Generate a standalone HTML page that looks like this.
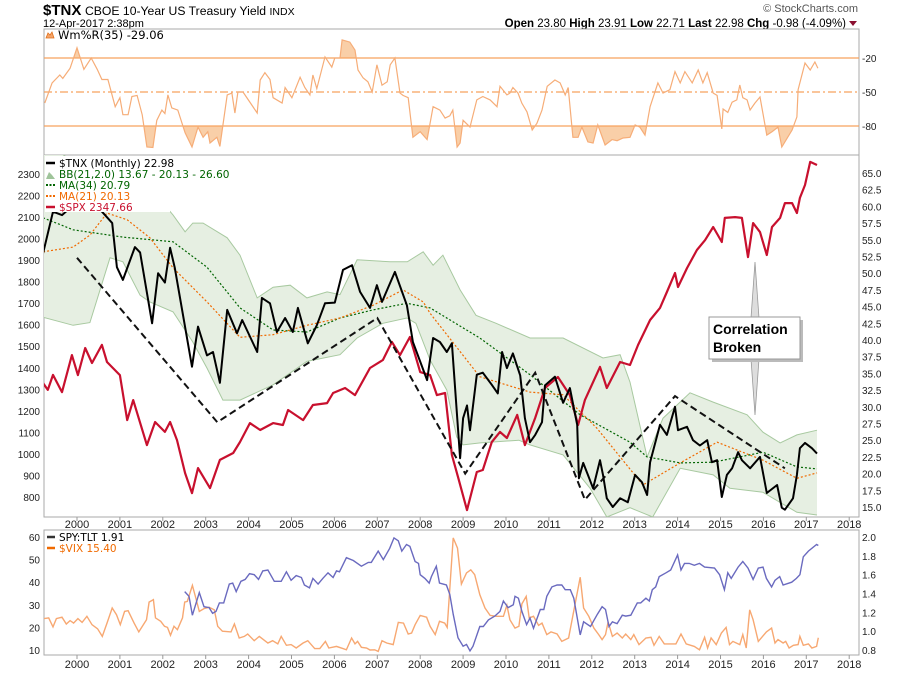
<!DOCTYPE html>
<html><head><meta charset="utf-8">
<style>
body{margin:0;background:#fff;}
svg{display:block;font-family:"Liberation Sans",sans-serif;}
.lg{font-family:"DejaVu Sans","Liberation Sans",sans-serif;}
.ax{font-size:10px;fill:#222;}
.yr{font-size:11px;fill:#222;}
</style></head>
<body>
<svg id="chart" width="900" height="673" viewBox="0 0 900 673" xmlns="http://www.w3.org/2000/svg">
<defs>
<clipPath id="clipTop"><rect x="44" y="29" width="815" height="126"/></clipPath>
<clipPath id="clipMain"><rect x="44" y="155" width="815" height="362"/></clipPath>
<clipPath id="clipBot"><rect x="44" y="530" width="815" height="125"/></clipPath>
<clipPath id="clipAbove"><rect x="44" y="29" width="815" height="29"/></clipPath>
<clipPath id="clipBelow"><rect x="44" y="126" width="815" height="29"/></clipPath>
</defs>
<text x="43" y="15" font-size="15" font-weight="bold">$TNX</text>
<text x="85" y="15" font-size="12.2">CBOE 10-Year US Treasury Yield <tspan font-size="10.5">INDX</tspan></text>
<text x="43" y="27" font-size="11">12-Apr-2017 2:38pm</text>
<text x="858" y="12" font-size="11" fill="#555" text-anchor="end">© StockCharts.com</text>
<text x="846" y="27" font-size="11.5" text-anchor="end"><tspan font-weight="bold">Open</tspan> 23.80  <tspan font-weight="bold">High</tspan> 23.91  <tspan font-weight="bold">Low</tspan> 22.71  <tspan font-weight="bold">Last</tspan> 22.98  <tspan font-weight="bold">Chg</tspan> -0.98 (-4.09%)</text>
<polygon points="849,21 857,21 853,26" fill="#8b1030"/>

<rect x="44" y="29" width="815" height="126" fill="#fff" stroke="#aaa"/>
<rect x="44" y="155" width="815" height="362" fill="#fff" stroke="#aaa"/>
<rect x="44" y="530" width="815" height="125" fill="#fff" stroke="#aaa"/>

<g id="gTop" clip-path="url(#clipTop)"></g>
<g id="gMain" clip-path="url(#clipMain)"></g>
<g id="gBot" clip-path="url(#clipBot)"></g>
<g id="gAxes"></g>

<g>
<polygon points="751,318 755,262 759,318" fill="#ddd" stroke="#999" stroke-width="0.8"/>
<polygon points="751,359 755,415 759,359" fill="#ddd" stroke="#999" stroke-width="0.8"/>
<rect x="712" y="320" width="91" height="42" fill="#bbb"/>
<rect x="709" y="317" width="91" height="42" fill="#fff" stroke="#999"/>
<text x="713" y="334" font-size="14" font-weight="bold">Correlation</text>
<text x="713" y="352" font-size="14" font-weight="bold">Broken</text>
</g>

<g>
<polygon points="46,38 48,33 50,35 52,32 54,38" fill="#f5a46a" stroke="#e0701a" stroke-width="0.8"/>
<text class="lg" x="58" y="39" style="font-size:11.5px">Wm%R(35) -29.06</text>
</g>
<g style="font-size:10.5px">
<rect x="45" y="156" width="125" height="56" fill="#fff"/>
<line x1="46" y1="163" x2="55" y2="163" stroke="#000" stroke-width="2.5"/>
<text class="lg" x="59" y="167" fill="#000">$TNX (Monthly) 22.98</text>
<polygon points="46,179 49,172 52,175 55,179" fill="#9fc49a"/>
<text class="lg" x="59" y="178" fill="#006400">BB(21,2.0) 13.67 - 20.13 - 26.60</text>
<line x1="46" y1="185" x2="55" y2="185" stroke="#006400" stroke-width="2" stroke-dasharray="2,1.5"/>
<text class="lg" x="59" y="189" fill="#006400">MA(34) 20.79</text>
<line x1="46" y1="196" x2="55" y2="196" stroke="#f06a00" stroke-width="2" stroke-dasharray="2,1.5"/>
<text class="lg" x="59" y="200" fill="#f06a00">MA(21) 20.13</text>
<line x1="46" y1="207" x2="55" y2="207" stroke="#c8102e" stroke-width="2.5"/>
<text class="lg" x="59" y="211" fill="#c8102e">$SPX 2347.66</text>
</g>
<g style="font-size:10.5px">
<line x1="47" y1="537" x2="55" y2="537" stroke="#333" stroke-width="2.5"/>
<text class="lg" x="59" y="541" fill="#000">SPY:TLT 1.91</text>
<line x1="47" y1="548" x2="55" y2="548" stroke="#f06a00" stroke-width="2.5"/>
<text class="lg" x="59" y="552" fill="#f06a00">$VIX 15.40</text>
</g>
</svg>
<script>
// ---- data ----
const tnxDates=[1999.21,1999.44,1999.65,1999.88,2000.54,2000.82,2000.93,2001.07,2001.35,2001.47,2001.75,2001.89,2002.05,2002.17,2002.28,2002.68,2002.82,2003.03,2003.17,2003.33,2003.5,2003.73,2003.85,2004.2,2004.31,2004.5,2004.66,2004.85,2005.03,2005.15,2005.38,2005.59,2005.78,2006.01,2006.2,2006.41,2006.6,2006.83,2006.99,2007.11,2007.41,2007.69,2007.83,2008.16,2008.3,2008.46,2008.62,2008.74,2008.93,2009.0,2009.09,2009.16,2009.32,2009.46,2009.67,2009.81,2009.91,2010.02,2010.16,2010.33,2010.44,2010.56,2010.68,2010.84,2010.91,2011.14,2011.33,2011.49,2011.66,2011.7,2011.8,2011.91,2012.03,2012.19,2012.26,2012.35,2012.49,2012.66,2012.84,2013.01,2013.17,2013.29,2013.36,2013.59,2013.75,2013.94,2014.01,2014.22,2014.36,2014.52,2014.69,2014.8,2014.92,2015.03,2015.15,2015.27,2015.41,2015.5,2015.69,2015.92,2016.08,2016.32,2016.43,2016.5,2016.69,2016.78,2016.85,2016.97,2017.13,2017.25];
const tnxVals=[53.0,59.2,58.7,60,59.5,57.5,50.9,49,53.9,53.1,42.5,50,48.6,53.8,50.8,36,42,37.7,38.2,33.6,44.5,41,43,38.2,46.3,45.5,41.2,43.3,41.2,44.8,39.5,42.2,45.5,45.6,50.5,51.2,47.2,44.8,48.2,45.7,50.2,45.2,39.7,34,40.3,39.7,38.2,39.5,22.3,28.3,30.2,26.5,34.8,35.1,33.3,32,38.2,35.8,38,34.7,28.3,24.7,25.8,27.7,33.2,34.5,30.6,32.8,27.3,19.3,21.6,19.8,17.8,22,19.8,16.3,15,16.3,15.7,19.8,18.7,16.8,21.7,27.3,25.8,30,26.5,27,25,24.2,25,21.7,22,16.5,19.8,20.8,23.2,22,20.8,22.5,17.1,18.3,14.9,14.6,16.3,19.8,23.8,24.6,23.8,23];
const spxDates=[1999.21,1999.32,1999.44,1999.65,1999.88,2000.02,2000.19,2000.35,2000.58,2000.7,2001.0,2001.17,2001.31,2001.63,2001.82,2002.05,2002.17,2002.33,2002.52,2002.68,2002.82,2003.1,2003.33,2003.64,2003.8,2004.03,2004.27,2004.57,2004.8,2004.92,2005.27,2005.5,2005.83,2005.97,2006.25,2006.48,2006.83,2007.13,2007.34,2007.53,2007.76,2008.0,2008.23,2008.39,2008.58,2008.74,2008.88,2009.09,2009.32,2009.46,2009.67,2009.86,2010.02,2010.26,2010.44,2010.68,2010.91,2011.21,2011.49,2011.68,2011.84,2012.19,2012.35,2012.66,2012.89,2013.08,2013.36,2013.59,2013.75,2013.94,2014.01,2014.22,2014.45,2014.64,2014.83,2015.03,2015.1,2015.34,2015.5,2015.64,2015.76,2015.92,2016.08,2016.2,2016.39,2016.5,2016.67,2016.78,2016.85,2016.97,2017.09,2017.25];
const spxVals=[1329,1297,1367,1287,1459,1366,1492,1422,1506,1427,1366,1157,1250,1041,1148,1102,1148,1064,911,818,934,841,972,1004,1055,1143,1111,1143,1134,1204,1157,1227,1236,1283,1306,1273,1399,1436,1520,1459,1543,1380,1366,1273,1283,995,893,739,916,925,1055,1102,1074,1181,1041,1167,1306,1357,1273,1134,1250,1404,1306,1427,1413,1506,1622,1678,1752,1840,1775,1863,1947,1993,2054,1984,2096,2100,2096,1914,2072,2030,1924,2054,2096,2165,2165,2119,2189,2249,2356,2342];
const ma34Dates=[1999.21,1999.91,2001.07,2002.24,2003.03,2003.8,2004.57,2005.36,2006.13,2006.9,2007.69,2008.23,2009.39,2010.56,2011.73,2012.89,2013.29,2014.06,2014.83,2015.99,2016.78,2017.25];
const ma34Vals=[58.3,56.5,55.4,54.7,50.9,44.8,41.5,41.2,43.3,44.5,45.5,44.8,40.3,34.8,28.8,24.7,22.5,21.6,21.7,23.2,21,20.7];
const ma21Dates=[1999.21,1999.91,2000.3,2000.7,2001.17,2001.7,2002.24,2003.03,2003.8,2004.57,2005.36,2006.13,2006.9,2007.6,2008.07,2008.23,2009.39,2010.56,2011.33,2012.12,2013.19,2014.06,2014.92,2015.99,2016.78,2017.25];
const ma21Vals=[53.2,53.9,55.7,59,58,55.3,50.8,45.7,40.4,40.8,42.2,43.3,45.2,47.5,45.7,44,34.5,32.2,31.8,26.8,18.3,21.6,24.7,22.0,19.3,20.1];
const bbUpDates=[1999.21,1999.91,2001.07,2001.7,2002.24,2002.52,2002.7,2002.94,2003.5,2003.8,2004.2,2004.57,2004.97,2005.36,2005.83,2006.13,2006.53,2007.3,2007.7,2008.07,2008.3,2008.53,2008.93,2009.3,2009.77,2010.56,2011.33,2012.26,2012.66,2012.89,2013.29,2013.66,2014.29,2014.83,2015.62,2015.99,2016.39,2016.78,2017.25];
const bbUpVals=[70,66.6,64,62.8,58.7,56.2,57.5,57.5,55.3,52.7,46.3,47.9,48.2,46.3,47.2,46.8,52,51.7,51.7,53.2,51.2,52.7,47.5,43.7,42.5,40.3,40.3,37.3,37.8,33.7,22.5,28.3,32.1,30.7,28.8,26.2,24.6,25.8,26.5];
const bbLoDates=[1999.21,1999.91,2000.3,2000.77,2001.07,2001.47,2001.7,2002.24,2002.7,2003.03,2003.4,2003.8,2004.57,2005.36,2006.13,2006.53,2007.13,2007.69,2007.9,2008.23,2008.62,2008.85,2009.0,2009.4,2010.3,2010.56,2011.33,2011.96,2012.35,2012.89,2013.42,2014.06,2014.83,2015.22,2015.99,2016.78,2017.25];
const bbLoVals=[43.4,42.2,42.6,52.3,51.7,46.7,45.7,44.2,39.7,35.8,31,31,33.3,36.8,37.8,40.3,42.5,43.3,42.5,37,32.5,25.5,24.3,24.6,25,24.3,22.8,17.8,13.5,14.9,13.5,20.8,19.8,17.8,17.2,14.2,13.8];
const annoDates=[2000.0,2003.27,2007.0,2009.05,2010.68,2011.84,2013.94,2016.5];
const annoVals=[52.3,27.7,43.3,20,35.1,16.1,31.6,20.8];
const wrDates=[1999.25,1999.42,1999.60,1999.67,1999.84,2000.00,2000.16,2000.33,2000.47,2000.58,2000.72,2000.89,2001.00,2001.07,2001.19,2001.28,2001.40,2001.52,2001.63,2001.77,2001.86,2001.98,2002.05,2002.12,2002.21,2002.35,2002.52,2002.68,2002.82,2002.94,2003.05,2003.10,2003.26,2003.33,2003.50,2003.61,2003.68,2003.75,2003.87,2004.20,2004.27,2004.38,2004.50,2004.57,2004.78,2004.85,2005.01,2005.20,2005.31,2005.43,2005.50,2005.59,2005.78,2005.94,2006.01,2006.13,2006.18,2006.36,2006.48,2006.55,2006.67,2006.78,2006.88,2006.99,2007.11,2007.23,2007.30,2007.41,2007.53,2007.60,2007.72,2007.83,2008.00,2008.16,2008.30,2008.46,2008.58,2008.69,2008.76,2008.86,2008.93,2009.00,2009.16,2009.32,2009.46,2009.63,2009.79,2009.86,2010.02,2010.09,2010.16,2010.28,2010.37,2010.49,2010.61,2010.72,2010.84,2010.96,2011.14,2011.26,2011.38,2011.45,2011.56,2011.68,2011.77,2011.91,2012.03,2012.14,2012.31,2012.47,2012.59,2012.73,2012.89,2013.01,2013.12,2013.24,2013.36,2013.54,2013.66,2013.82,2013.94,2014.06,2014.17,2014.34,2014.48,2014.59,2014.69,2014.83,2014.92,2015.03,2015.06,2015.17,2015.27,2015.38,2015.45,2015.52,2015.62,2015.69,2015.80,2015.92,2016.08,2016.20,2016.34,2016.43,2016.67,2016.78,2016.81,2016.97,2017.09,2017.20,2017.27];
const wrVals=[-59.7,-42,-35,-38,-29,-11,-30,-20,-30,-39,-39,-63,-55,-70,-70,-54,-53,-70,-98.5,-99,-75,-66,-69,-52.6,-64,-66,-86,-98.5,-81,-90,-85,-95,-90,-98,-52.6,-51,-68.5,-50,-50,-68.5,-39.4,-33,-39,-55,-59.7,-46,-55,-37,-46,-52.6,-35,-47,-19,-28,-20,-20,-4,-6,-13,-30.6,-37.6,-41,-50,-26,-44,-41,-26,-20,-51,-53,-55,-90,-85,-92,-63,-66,-73,-71,-66,-98.5,-95,-75,-81,-57,-54,-57,-63,-45,-52.6,-51,-46,-51,-60,-67.6,-83.5,-77.6,-66,-45,-39.4,-42,-52.6,-46,-90,-90,-81,-94,-95,-79,-96.8,-92,-93,-90.6,-90,-79,-81,-88,-63,-42,-51,-48,-32,-42,-32,-42,-30.6,-42,-33,-51,-53,-82.6,-65,-68,-59,-57,-43.8,-55,-57,-65.9,-60,-54.4,-88,-85,-81,-98.5,-83.5,-72,-48,-24.4,-30.6,-23.5,-29];
const ratioDates=[2002.51,2002.61,2002.69,2002.85,2002.96,2003.08,2003.16,2003.24,2003.32,2003.42,2003.55,2003.63,2003.71,2003.82,2003.92,2004.02,2004.13,2004.23,2004.33,2004.45,2004.6,2004.76,2004.88,2004.99,2005.11,2005.23,2005.3,2005.42,2005.5,2005.62,2005.73,2005.85,2005.97,2006.05,2006.12,2006.28,2006.44,2006.63,2006.79,2006.86,2007.02,2007.14,2007.29,2007.39,2007.49,2007.57,2007.68,2007.76,2007.88,2007.96,2008.0,2008.11,2008.21,2008.26,2008.375,2008.45,2008.61,2008.69,2008.77,2008.88,2009.0,2009.08,2009.16,2009.23,2009.39,2009.47,2009.59,2009.74,2009.86,2009.94,2010.05,2010.17,2010.21,2010.29,2010.37,2010.48,2010.56,2010.64,2010.8,2010.88,2010.95,2011.07,2011.19,2011.3,2011.38,2011.5,2011.58,2011.73,2011.81,2011.97,2012.13,2012.24,2012.32,2012.4,2012.48,2012.59,2012.71,2012.79,2012.91,2013.06,2013.14,2013.26,2013.34,2013.41,2013.49,2013.57,2013.73,2013.84,2014.0,2014.08,2014.16,2014.27,2014.39,2014.51,2014.63,2014.86,2014.98,2015.09,2015.17,2015.25,2015.41,2015.52,2015.64,2015.76,2015.88,2015.99,2016.07,2016.19,2016.27,2016.38,2016.46,2016.66,2016.77,2016.85,2016.93,2017.05,2017.24,2017.28];
const ratioVals=[1.42,1.37,1.17,1.41,1.26,1.25,1.19,1.21,1.30,1.30,1.50,1.51,1.42,1.53,1.55,1.61,1.60,1.55,1.64,1.65,1.53,1.53,1.63,1.54,1.59,1.57,1.49,1.46,1.56,1.50,1.56,1.62,1.57,1.64,1.63,1.78,1.75,1.69,1.73,1.73,1.85,1.76,1.88,1.99,1.96,1.85,1.92,1.90,1.74,1.72,1.60,1.56,1.51,1.58,1.69,1.51,1.49,1.39,1.18,0.93,0.84,0.86,0.79,0.84,1.05,1.05,1.12,1.16,1.21,1.32,1.25,1.28,1.37,1.35,1.21,1.07,1.14,1.03,1.23,1.23,1.37,1.47,1.49,1.49,1.44,1.44,1.35,0.96,1.10,1.05,1.18,1.26,1.23,1.05,1.10,1.08,1.17,1.16,1.17,1.30,1.30,1.35,1.32,1.44,1.47,1.58,1.62,1.65,1.81,1.65,1.72,1.72,1.70,1.72,1.68,1.67,1.60,1.44,1.62,1.56,1.68,1.74,1.67,1.55,1.67,1.68,1.56,1.47,1.54,1.58,1.49,1.52,1.56,1.60,1.79,1.85,1.92,1.91];
const vixDates=[1999.22,1999.34,1999.44,1999.52,1999.65,1999.75,1999.84,1999.92,2000.02,2000.12,2000.23,2000.35,2000.48,2000.59,2000.70,2000.82,2000.92,2001.01,2001.11,2001.19,2001.33,2001.44,2001.62,2001.68,2001.78,2001.83,2001.95,2002.04,2002.11,2002.18,2002.26,2002.34,2002.46,2002.51,2002.57,2002.69,2002.77,2002.85,2002.96,2003.08,2003.20,2003.28,2003.39,2003.59,2003.67,2003.78,2003.90,2003.98,2004.13,2004.25,2004.45,2004.56,2004.68,2004.76,2004.88,2004.99,2005.11,2005.27,2005.38,2005.54,2005.66,2005.79,2005.87,2006.05,2006.20,2006.28,2006.40,2006.48,2006.54,2006.63,2006.75,2006.83,2006.94,2007.02,2007.11,2007.22,2007.37,2007.49,2007.61,2007.72,2007.80,2007.88,2008.00,2008.15,2008.23,2008.35,2008.45,2008.57,2008.63,2008.77,2008.87,2008.96,2009.08,2009.18,2009.27,2009.39,2009.51,2009.63,2009.78,2009.94,2010.02,2010.09,2010.21,2010.30,2010.37,2010.47,2010.54,2010.64,2010.76,2010.84,2010.95,2011.05,2011.19,2011.30,2011.46,2011.73,2011.81,2011.93,2012.05,2012.16,2012.24,2012.32,2012.38,2012.48,2012.59,2012.71,2012.79,2012.91,2012.98,2013.10,2013.26,2013.38,2013.45,2013.57,2013.69,2013.96,2014.08,2014.20,2014.39,2014.51,2014.63,2014.70,2014.78,2014.90,2015.02,2015.13,2015.21,2015.29,2015.45,2015.52,2015.60,2015.68,2015.76,2015.88,2016.07,2016.19,2016.27,2016.34,2016.46,2016.52,2016.60,2016.70,2016.81,2016.85,2016.93,2017.05,2017.13,2017.24,2017.28];
const vixVals=[23.9,24.2,20.2,23.9,24.5,21.5,23.0,21.9,23.9,22.2,24.9,21.2,19.4,16.0,21.9,28.6,25.6,21.2,27.1,27.4,21.9,18.0,23.4,31.2,32.3,24.2,22.7,20.5,20.0,16.5,20.5,19.0,24.2,31.2,31.5,38.6,33.0,27.1,28.3,28.9,27.8,20.5,18.3,18.0,21.5,15.3,16.0,17.1,14.1,16.0,13.1,14.1,12.7,16.0,12.1,12.4,10.9,13.1,14.1,10.6,10.6,13.8,10.9,11.6,10.6,10.1,15.3,12.7,13.8,11.2,10.9,10.0,10.1,9.4,14.1,13.1,12.4,22.2,21.9,17.1,17.5,21.2,25.3,24.5,20.5,16.8,22.7,21.9,20.0,59.6,55.1,39.2,44.1,45.5,43.3,34.5,28.6,25.3,24.9,24.9,29.8,23.4,19.7,20.5,30.4,33.7,24.2,24.9,20.9,21.9,16.8,18.0,17.1,13.8,15.3,42.2,28.6,24.9,19.7,16.8,14.6,16.8,22.4,16.0,17.5,15.3,17.1,14.6,16.8,12.4,15.3,15.6,12.1,16.0,12.7,12.7,17.1,12.7,11.6,10.1,15.6,10.9,15.3,12.4,17.5,20.0,12.4,13.8,12.4,16.8,10.9,27.8,23.4,13.8,18.0,19.7,13.1,14.6,13.1,13.8,10.9,12.1,12.4,16.0,12.1,12.7,10.9,11.6,15.4];
const mainLeftTicks=[800,900,1000,1100,1200,1300,1400,1500,1600,1700,1800,1900,2000,2100,2200,2300];
const mainRightTicks=[15,17.5,20,22.5,25,27.5,30,32.5,35,37.5,40,42.5,45,47.5,50,52.5,55,57.5,60,62.5,65];
const wrTicks=[-20,-50,-80];
const vixTicks=[10,20,30,40,50,60];
const ratioTicks=[0.8,1.0,1.2,1.4,1.6,1.8,2.0];
const yearTicks=[2000,2001,2002,2003,2004,2005,2006,2007,2008,2009,2010,2011,2012,2013,2014,2015,2016,2017,2018];

// ---- scales ----
const xT=t=>77+(t-2000)*42.9;
const yR=v=>173+(65-v)*6.68;
const yL=v=>174+(2300-v)*0.2153;
const yW=v=>58+(-20-v)*34/30;
const yV=v=>537+(60-v)*2.26;
const yS=v=>537+(2.0-v)*94.17;
const NS='http://www.w3.org/2000/svg';
function mk(tag,parent,attrs){const e=document.createElementNS(NS,tag);for(const k in attrs)e.setAttribute(k,attrs[k]);parent.appendChild(e);return e;}
function pts(d,v,yf){return d.map((t,i)=>xT(t).toFixed(1)+','+yf(v[i]).toFixed(1));}

const gTop=document.getElementById('gTop'),gMain=document.getElementById('gMain'),gBot=document.getElementById('gBot'),gAx=document.getElementById('gAxes');

// ---- Wm%R panel ----
let e;
const wp=pts(wrDates,wrVals,yW);
const x0=xT(wrDates[0]).toFixed(1),x1=xT(wrDates[wrDates.length-1]).toFixed(1);
e=mk('polygon',gTop,{points:x0+','+yW(-20)+' '+wp.join(' ')+' '+x1+','+yW(-20),fill:'#f9cfa8','clip-path':'url(#clipAbove)'});


e=mk('polygon',gTop,{points:x0+','+yW(-80)+' '+wp.join(' ')+' '+x1+','+yW(-80),fill:'#f9cfa8','clip-path':'url(#clipBelow)'});


wrTicks.forEach(v=>{
  e=mk('line',gTop,{x1:44,x2:859,y1:yW(v),y2:yW(v),stroke:'#f7a25e','stroke-width':1.2,'stroke-dasharray':v===-50?'8,3,2,3':'none'});
  
  
  e=mk('text',gAx,{x:862,y:yW(v)+4,class:'ax'});e.textContent=v;
  
  
});
e=mk('polyline',gTop,{points:wp.join(' '),fill:'none',stroke:'#f6ad78','stroke-width':1.2});



// ---- main panel ----
const up=pts(bbUpDates,bbUpVals,yR),lo=pts(bbLoDates,bbLoVals,yR).reverse();
e=mk('polygon',gMain,{points:up.concat(lo).join(' '),fill:'#e6efe2',stroke:'none'});


e=mk('polyline',gMain,{points:up.join(' '),fill:'none',stroke:'#a8c9a0','stroke-width':1});


e=mk('polyline',gMain,{points:lo.join(' '),fill:'none',stroke:'#a8c9a0','stroke-width':1});


e=mk('polyline',gMain,{points:pts(ma34Dates,ma34Vals,yR).join(' '),fill:'none',stroke:'#006400','stroke-width':1.2,'stroke-dasharray':'2,2'});


e=mk('polyline',gMain,{points:pts(ma21Dates,ma21Vals,yR).join(' '),fill:'none',stroke:'#f06a00','stroke-width':1.2,'stroke-dasharray':'2,2'});


e=mk('polyline',gMain,{points:pts(spxDates,spxVals,yL).join(' '),fill:'none',stroke:'#c8102e','stroke-width':2.2,'stroke-linejoin':'round'});


e=mk('polyline',gMain,{points:pts(annoDates,annoVals,yR).join(' '),fill:'none',stroke:'#111','stroke-width':2,'stroke-dasharray':'7,4'});


e=mk('polyline',gMain,{points:pts(tnxDates,tnxVals,yR).join(' '),fill:'none',stroke:'#000','stroke-width':2,'stroke-linejoin':'round'});



mainLeftTicks.forEach(v=>{
  e=mk('text',gAx,{x:40,y:yL(v)+4,class:'ax','text-anchor':'end'});e.textContent=v;
  
  
});
mainRightTicks.forEach(v=>{
  e=mk('text',gAx,{x:862,y:yR(v)+4,class:'ax'});e.textContent=v.toFixed(1);
  
  
});

// ---- bottom panel ----
e=mk('polyline',gBot,{points:pts(vixDates,vixVals,yV).join(' '),fill:'none',stroke:'#f7a872','stroke-width':1.4});


e=mk('polyline',gBot,{points:pts(ratioDates,ratioVals,yS).join(' '),fill:'none',stroke:'#6a6abf','stroke-width':1.4});


vixTicks.forEach(v=>{
  e=mk('text',gAx,{x:40,y:yV(v)+4,class:'ax','text-anchor':'end'});e.textContent=v;
  
  
});
ratioTicks.forEach(v=>{
  e=mk('text',gAx,{x:862,y:yS(v)+4,class:'ax'});e.textContent=v.toFixed(1);
  
  
});

// ---- year axes ----
yearTicks.forEach(yv=>{
  const x=xT(yv);
  [[517,528],[655,668]].forEach(([by,ty])=>{
    e=mk('line',gAx,{x1:x,x2:x,y1:by,y2:by+4,stroke:'#999'});
    
    
    e=mk('text',gAx,{x:x,y:ty,class:'yr','text-anchor':'middle'});e.textContent=yv;
    
    
  });
});
</script>
</body></html>
